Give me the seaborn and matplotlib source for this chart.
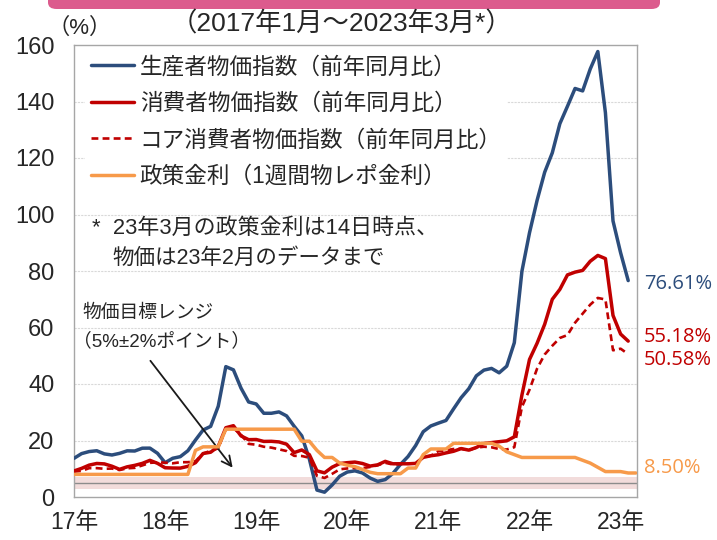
import matplotlib.pyplot as plt
import numpy as np
import pandas as pd
import seaborn as sns
from matplotlib.patches import FancyBboxPatch

sns.set_style('white')
plt.rcParams['font.family'] = ['Liberation Sans', 'Noto Sans CJK JP', 'DejaVu Sans']

# monthly data, Jan 2017 - Feb 2023 (prices) / Mar 2023 (policy rate)
ppi = [13.69, 15.36, 16.09, 16.37, 15.26, 14.87, 15.45, 16.34, 16.28, 17.28, 17.30, 15.47,
       12.14, 13.71, 14.28, 16.37, 20.16, 23.71, 25.00, 32.13, 46.15, 45.01, 38.54, 33.64,
       32.93, 29.64, 29.64, 30.12, 28.71, 25.04, 21.66, 13.45, 2.45, 1.70, 4.26, 7.36,
       8.84, 9.26, 8.50, 6.71, 5.53, 6.17, 8.33, 11.53, 14.33, 18.20, 23.11, 25.15,
       26.16, 27.09, 31.20, 35.17, 38.33, 42.89, 44.92, 45.52, 43.96, 46.31, 54.62, 79.89,
       93.53, 105.01, 114.97, 121.82, 132.16, 138.31, 144.61, 143.75, 151.50, 157.69, 136.02, 97.72,
       86.46, 76.61]
cpi = [9.22, 10.13, 11.29, 11.87, 11.72, 10.90, 9.79, 10.68, 11.20, 11.90, 12.98, 11.92,
       10.35, 10.26, 10.23, 10.85, 12.15, 15.39, 15.85, 17.90, 24.52, 25.24, 21.62, 20.30,
       20.35, 19.67, 19.71, 19.50, 18.71, 15.72, 16.65, 15.01, 9.26, 8.55, 10.56, 11.84,
       12.15, 12.37, 11.86, 10.94, 11.39, 12.62, 11.76, 11.77, 11.75, 11.89, 14.03, 14.60,
       14.97, 15.61, 16.19, 17.14, 16.59, 17.53, 18.95, 19.25, 19.58, 19.89, 21.31, 36.08,
       48.69, 54.44, 61.14, 69.97, 73.50, 78.62, 79.60, 80.21, 83.45, 85.51, 84.39, 64.27,
       57.68, 55.18]
core = [8.98, 9.24, 10.21, 10.22, 9.99, 10.06, 9.54, 10.16, 10.32, 11.18, 12.08, 12.27,
        12.14, 11.92, 12.31, 12.33, 12.64, 15.38, 16.37, 17.22, 24.05, 24.34, 22.05, 18.81,
        18.51, 17.79, 17.48, 16.88, 16.27, 14.58, 14.51, 13.90, 7.47, 6.74, 8.19, 9.81,
        10.10, 10.28, 10.23, 10.62, 11.23, 12.11, 11.49, 11.71, 11.79, 11.81, 14.07, 14.61,
        16.23, 16.52, 17.00, 17.07, 16.52, 17.48, 17.79, 17.59, 16.98, 16.82, 17.63, 31.88,
        37.97, 45.45, 50.45, 53.53, 56.30, 57.32, 61.69, 64.90, 68.09, 70.47, 69.91, 51.93,
        52.50, 50.58]
policy = [8, 8, 8, 8, 8, 8, 8, 8, 8, 8, 8, 8,
          8, 8, 8, 8, 16.5, 17.75, 17.75, 17.75, 24, 24, 24, 24,
          24, 24, 24, 24, 24, 24, 19.75, 19.75, 16.5, 14, 14, 12,
          11.25, 10.75, 9.75, 8.75, 8.25, 8.25, 8.25, 8.25, 10.25, 10.25, 15, 17,
          17, 17, 19, 19, 19, 19, 19, 19, 18, 16, 15, 14,
          14, 14, 14, 14, 14, 14, 14, 13, 12, 10.5, 9, 9,
          9, 8.5, 8.5]

labels = ['生産者物価指数（前年同月比）', '消費者物価指数（前年同月比）',
          'コア消費者物価指数（前年同月比）', '政策金利（1週間物レポ金利）']
year_ticks = ['17年', '18年', '19年', '20年', '21年', '22年', '23年']
end_labels = ['76.61%', '55.18%', '50.58%', '8.50%']

months_p = pd.date_range('2017-01-01', periods=len(cpi), freq='MS')
months_r = pd.date_range('2017-01-01', periods=len(policy), freq='MS')


def frac_year(d):
    return d.year + (d.month - 1) / 12


df = pd.DataFrame({'x': frac_year(months_p), 'ppi': ppi, 'cpi': cpi, 'core': core})
dr = pd.DataFrame({'x': frac_year(months_r), 'policy': policy})

BLUE = '#2C4D7C'
RED = '#C00000'
ORANGE = '#F79A4A'
TXT = '#262626'

fig = plt.figure(figsize=(7.17, 5.4), dpi=100)
ax = fig.add_axes([74 / 717, 1 - 497 / 540, (637 - 74) / 717, (497 - 45) / 540])

# target range band 5% +- 2pt
ax.axhspan(3, 7, color='#F2DCDB', lw=0, zorder=1)
ax.axhline(5, color='#8C8C8C', lw=1.0, zorder=1.5)

sns.lineplot(data=df, x='x', y='ppi', ax=ax, color=BLUE, lw=2.5, label=labels[0], zorder=3)
sns.lineplot(data=df, x='x', y='cpi', ax=ax, color=RED, lw=2.5, label=labels[1], zorder=3)
sns.lineplot(data=df, x='x', y='core', ax=ax, color=RED, lw=1.9, label=labels[2],
             linestyle=(0, (2.6, 1.6)), zorder=3)
sns.lineplot(data=dr, x='x', y='policy', ax=ax, color=ORANGE, lw=2.5, label=labels[3], zorder=4)

ax.set_xlim(2017, 2023.18)
ax.set_ylim(0, 160)
ax.set_xticks(range(2017, 2024))
ax.set_xticklabels(year_ticks)
ax.set_yticks(range(0, 161, 20))
ax.set_xlabel('')
ax.set_ylabel('')
ax.tick_params(axis='x', length=5, color='#A0A0A0', labelsize=16.5, labelcolor=TXT, pad=5)
ax.tick_params(axis='y', length=0, labelsize=17, labelcolor=TXT, pad=14)
for s in ax.spines.values():
    s.set_color('#A6A6A6')
    s.set_linewidth(1.0)
for v in range(20, 160, 20):
    ax.axhline(v, color='#D9D9D9', lw=0.8, ls=(0, (2, 1)), zorder=0.5)

leg = ax.legend(loc='upper left', bbox_to_anchor=(0.0, 1.015), fontsize=16.3,
                handlelength=1.9, handletextpad=0.25, labelspacing=0.6,
                borderpad=0.25, frameon=True, fancybox=False, framealpha=1)
leg.get_frame().set_edgecolor('none')
leg.get_frame().set_facecolor('white')
leg.set_zorder(5)

ax.text(2017.2, 95, '*  23年3月の政策金利は14日時点、', fontsize=15.8, color=TXT, va='center')
ax.text(2017.42, 84.5, '物価は23年2月のデータまで', fontsize=15.5, color=TXT, va='center')
ax.text(2017.09, 65, '物価目標レンジ', fontsize=13.5, color=TXT, va='center')
ax.text(2016.99, 55, '（5%±2%ポイント）', fontsize=13.5, color=TXT, va='center')
ax.annotate('', xy=(2018.76, 9.6), xytext=(2017.82, 49),
            arrowprops=dict(arrowstyle='->,head_length=0.7,head_width=0.35', color='#1A1A1A', lw=1.3))

end_y = [75.5, 56.5, 48.5, 10.3]
end_c = [BLUE, RED, RED, ORANGE]
for t, yv, c in zip(end_labels, end_y, end_c):
    ax.text(1.012, yv, t, transform=ax.get_yaxis_transform(), fontsize=14.5, color=c,
            va='center', ha='left', family=['Open Sans', 'DejaVu Sans'])

fig.text(0.477, 0.956, '（2017年1月～2023年3月*）', fontsize=19, ha='center', va='center', color=TXT)
fig.text(0.066, 0.947, '（%）', fontsize=16, ha='left', va='center', color=TXT)

fig.patches.append(FancyBboxPatch((48 / 717, 1 - 9 / 540), (660 - 48) / 717, 0.05,
                                  boxstyle='round,pad=0,rounding_size=0.012',
                                  transform=fig.transFigure, fc='#DC5B8D', ec='none'))

fig.savefig('out.png', dpi=100)
